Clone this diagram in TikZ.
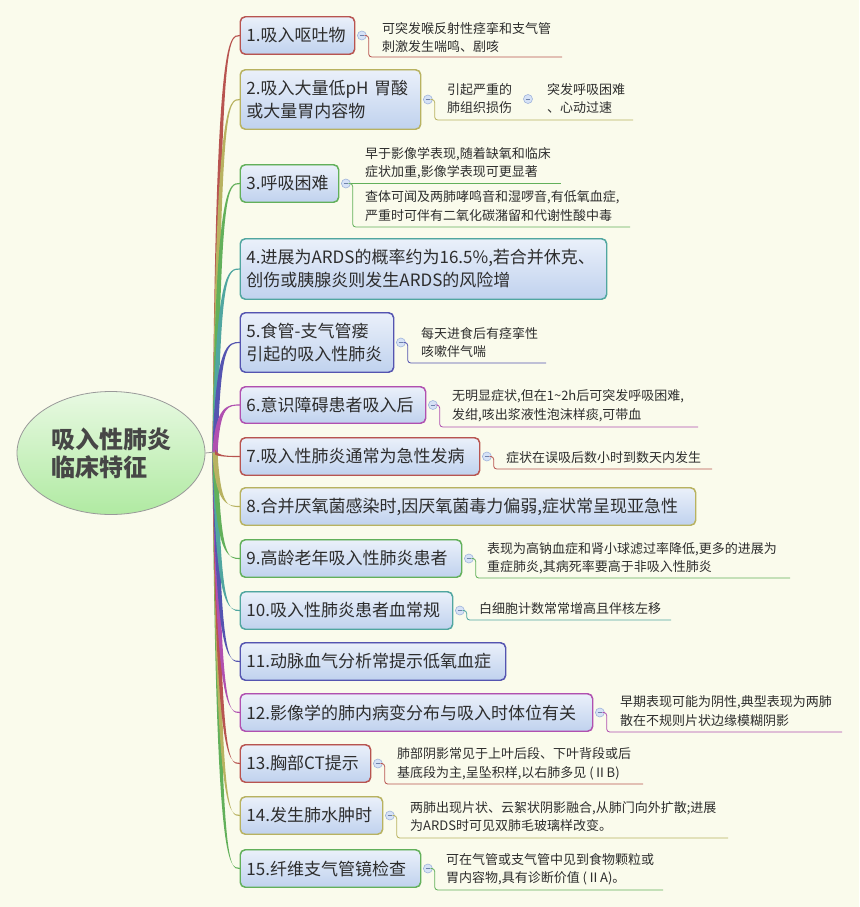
\documentclass[tikz,border=0pt]{standalone}
\usepackage{fontspec}
\setmainfont{Noto Sans CJK SC}
\usetikzlibrary{calc,shapes.geometric}
\definecolor{bg}{RGB}{250,251,236}
\definecolor{cRed}{RGB}{184,84,80}
\definecolor{cOli}{RGB}{184,178,96}
\definecolor{cGrn}{RGB}{98,176,90}
\definecolor{cTea}{RGB}{80,166,160}
\definecolor{cInd}{RGB}{84,84,176}
\definecolor{cMag}{RGB}{176,80,176}
\definecolor{txt}{RGB}{45,45,45}
\definecolor{roottxt}{RGB}{70,70,70}
\definecolor{boxtop}{RGB}{234,240,250}
\definecolor{boxbot}{RGB}{192,210,238}
\definecolor{roottop}{RGB}{232,249,226}
\definecolor{rootbot}{RGB}{176,234,162}
\definecolor{cfill}{RGB}{214,226,246}
\definecolor{cedge}{RGB}{160,180,220}
\definecolor{cminus}{RGB}{110,130,170}
\newcommand\branch[4]{%
  \fill[#1] ($(trunk)+(-#3,-#4)$)
    .. controls ($(trunk|-#2.west)+(3-#3,0)$) and ($(#2.west)+(-12,-0.6)$) .. ($(#2.west)+(0,-0.6)$)
    -- ($(#2.west)+(0,0.6)$)
    .. controls ($(#2.west)+(-12,0.6)$) and ($(trunk|-#2.west)+(3+#3,0)$) .. ($(trunk)+(#3,#4)$) -- cycle;}
\begin{document}
\begin{tikzpicture}[x=1pt,y=-1pt,
  topic/.style={anchor=west, rounded corners=5pt, line width=0.9pt,
    top color=boxtop, bottom color=boxbot, align=left, inner xsep=6pt, inner ysep=2pt,
    font=\fontsize{17}{23}\selectfont, text=txt},
  root/.style={ellipse, draw=gray!80, line width=0.8pt, top color=roottop, bottom color=rootbot,
    minimum width=188pt, minimum height=123pt, inner sep=0pt, align=left,
    font=\fontsize{24}{28}\selectfont\bfseries, text=roottxt},
  collapse/.style={circle, minimum size=9pt, inner sep=0pt, fill=cfill, draw=cedge, line width=0.6pt,
    path picture={\draw[cminus, line width=0.7pt] ([xshift=-2.3pt]path picture bounding box.center) -- ([xshift=2.3pt]path picture bounding box.center);}},
  child/.style={anchor=west, align=left, inner sep=0pt, font=\fontsize{13}{18.5}\selectfont, text=txt},
  uline/.style={line width=0.8pt, rounded corners=3pt}]
\fill[bg] (0,0) rectangle (859,907);
\useasboundingbox (0,0) rectangle (859,907);

% root and topics
\node[root] (root) at (111,453) {吸入性肺炎\\临床特征};
\coordinate (trunk) at (215,452);

\node[topic, draw=cRed, minimum width=114pt, minimum height=37pt, text width=102pt] (b1) at (240,35.5) {1.吸入呕吐物};
\node[topic, draw=cOli, minimum width=180pt, minimum height=59pt, text width=168pt] (b2) at (240,99.5) {2.吸入大量低pH 胃酸\\或大量胃内容物};
\node[topic, draw=cGrn, minimum width=98pt, minimum height=37pt, text width=86pt] (b3) at (240,183.5) {3.呼吸困难};
\node[topic, draw=cTea, minimum width=366pt, minimum height=60pt, text width=354pt] (b4) at (240,269) {4.进展为ARDS的概率约为16.5\%,若合并休克、\\创伤或胰腺炎则发生ARDS的风险增};
\node[topic, draw=cInd, minimum width=153pt, minimum height=59pt, text width=141pt] (b5) at (240,342.5) {5.食管-支气管瘘\\引起的吸入性肺炎};
\node[topic, draw=cMag, minimum width=185pt, minimum height=36pt, text width=173pt] (b6) at (240,405) {6.意识障碍患者吸入后};
\node[topic, draw=cRed, minimum width=239pt, minimum height=37pt, text width=227pt] (b7) at (240,456.5) {7.吸入性肺炎通常为急性发病};
\node[topic, draw=cOli, minimum width=455pt, minimum height=37pt, text width=443pt] (b8) at (240,506.5) {8.合并厌氧菌感染时,因厌氧菌毒力偏弱,症状常呈现亚急性};
\node[topic, draw=cGrn, minimum width=221pt, minimum height=37pt, text width=209pt] (b9) at (240,558.5) {9.高龄老年吸入性肺炎患者};
\node[topic, draw=cTea, minimum width=212pt, minimum height=37pt, text width=200pt] (b10) at (240,610.5) {10.吸入性肺炎患者血常规};
\node[topic, draw=cInd, minimum width=265pt, minimum height=37pt, text width=253pt] (b11) at (240,661.5) {11.动脉血气分析常提示低氧血症};
\node[topic, draw=cMag, minimum width=352pt, minimum height=37pt, text width=340pt] (b12) at (240,712.5) {12.影像学的肺内病变分布与吸入时体位有关};
\node[topic, draw=cRed, minimum width=130pt, minimum height=37pt, text width=118pt] (b13) at (240,763.5) {13.胸部CT提示};
\node[topic, draw=cOli, minimum width=142pt, minimum height=37pt, text width=130pt] (b14) at (240,815.5) {14.发生肺水肿时};
\node[topic, draw=cGrn, minimum width=180pt, minimum height=37pt, text width=168pt] (b15) at (240,868.5) {15.纤维支气管镜检查};

% branches (drawn under the boxes)
\begin{scope}[on background layer/.try]
\end{scope}
\branch{cGrn}{b15}{2.5}{0}
\branch{cOli}{b14}{2.5}{0}
\branch{cRed}{b13}{2.5}{0}
\branch{cMag}{b12}{2.5}{0}
\branch{cInd}{b11}{2.5}{0}
\branch{cTea}{b10}{2.5}{0}
\branch{cGrn}{b9}{2.5}{0}
\branch{cOli}{b8}{2.5}{0}
\branch{cRed}{b1}{2.5}{0}
\branch{cOli}{b2}{2.5}{0}
\branch{cGrn}{b3}{2.5}{0}
\branch{cTea}{b4}{2.5}{0}
\branch{cInd}{b5}{2.5}{0}
\branch{cMag}{b6}{2.5}{0}
\branch{cRed}{b7}{0}{2.5}
\draw[gray!80, line width=0.8pt] (root.east) -- (trunk);

% redraw boxes on top of branch ends
\foreach \b/\c in {b1/cRed,b2/cOli,b3/cGrn,b4/cTea,b5/cInd,b6/cMag,b7/cRed,b8/cOli,b9/cGrn,b10/cTea,b11/cInd,b12/cMag,b13/cRed,b14/cOli,b15/cGrn}
  \draw[\c, line width=0.9pt, rounded corners=5pt] (\b.north west) rectangle (\b.south east);

% underline end points
\coordinate (e1) at (562,57);
\coordinate (e2) at (633,120);
\coordinate (e3a) at (561,183.5);
\coordinate (e3b) at (630,227);
\coordinate (e5) at (546,363);
\coordinate (e6) at (698,427);
\coordinate (e7) at (712,469);
\coordinate (e9) at (790,578);
\coordinate (e10) at (671,620);
\coordinate (e12) at (842,732);
\coordinate (e13) at (643,784);
\coordinate (e14) at (728,838);
\coordinate (e15) at (663,890);

% collapse markers
\node[collapse] (k1) at ($(b1.east)+(7,0)$) {};
\node[collapse] (k2) at ($(b2.east)+(7,0)$) {};
\node[collapse] (k3) at ($(b3.east)+(7,0)$) {};
\node[collapse] (k5) at ($(b5.east)+(7,0)$) {};
\node[collapse] (k6) at ($(b6.east)+(7,0)$) {};
\node[collapse] (k7) at ($(b7.east)+(7,0)$) {};
\node[collapse] (k9) at ($(b9.east)+(7,0)$) {};
\node[collapse] (k10) at ($(b10.east)+(7,0)$) {};
\node[collapse] (k12) at ($(b12.east)+(7,0)$) {};
\node[collapse] (k13) at ($(b13.east)+(7,0)$) {};
\node[collapse] (k14) at ($(b14.east)+(7,0)$) {};
\node[collapse] (k15) at ($(b15.east)+(7,0)$) {};

% underline connectors
\draw[cRed, uline] (k1.east) -- ++(2,0) |- (e1);
\draw[cOli, uline] (k2.east) -- ++(2,0) |- (e2);
\draw[cGrn, uline] (k3.east) -- (e3a);
\draw[cGrn, uline] (k3.east) -- ++(2,0) |- (e3b);
\draw[cInd, uline] (k5.east) -- ++(2,0) |- (e5);
\draw[cMag, uline] (k6.east) -- ++(2,0) |- (e6);
\draw[cRed, uline] (k7.east) -- ++(2,0) |- (e7);
\draw[cGrn, uline] (k9.east) -- ++(2,0) |- (e9);
\draw[cTea, uline] (k10.east) -- ++(2,0) |- (e10);
\draw[cMag, uline] (k12.east) -- ++(2,0) |- (e12);
\draw[cRed, uline] (k13.east) -- ++(2,0) |- (e13);
\draw[cOli, uline] (k14.east) -- ++(2,0) |- (e14);
\draw[cGrn, uline] (k15.east) -- ++(2,0) |- (e15);

% subtopic texts
\node[child] (t1) at (382,37.5) {可突发喉反射性痉挛和支气管\\刺激发生喘鸣、剧咳};
\node[child] (t2) at (447,98.5) {引起严重的\\肺组织损伤};
\node[collapse] (k2b) at (528,99) {};
\node[child] (t2b) at (547,98.5) {突发呼吸困难\\、心动过速};
\node[child] (t3a) at (365,163) {早于影像学表现,随着缺氧和临床\\症状加重,影像学表现可更显著};
\node[child] (t3b) at (365,206) {查体可闻及两肺哮鸣音和湿啰音,有低氧血症,\\严重时可伴有二氧化碳潴留和代谢性酸中毒};
\node[child] (t5) at (421,342.5) {每天进食后有痉挛性\\咳嗽伴气喘};
\node[child] (t6) at (452,405.5) {无明显症状,但在1\textasciitilde 2h后可突发呼吸困难,\\发绀,咳出浆液性泡沫样痰,可带血};
\node[child] (t7) at (506,458) {症状在误吸后数小时到数天内发生};
\node[child] (t9) at (487,558) {表现为高钠血症和肾小球滤过率降低,更多的进展为\\重症肺炎,其病死率要高于非吸入性肺炎};
\node[child] (t10) at (479,609) {白细胞计数常常增高且伴核左移};
\node[child] (t12) at (620,711) {早期表现可能为阴性,典型表现为两肺\\散在不规则片状边缘模糊阴影};
\node[child] (t13) at (397,764) {肺部阴影常见于上叶后段、下叶背段或后\\基底段为主,呈坠积样,以右肺多见 (ⅡB)};
\node[child] (t14) at (410,816.5) {两肺出现片状、云絮状阴影融合,从肺门向外扩散;进展\\为ARDS时可见双肺毛玻璃样改变。};
\node[child] (t15) at (446,869.5) {可在气管或支气管中见到食物颗粒或\\胃内容物,具有诊断价值 (ⅡA)。};
\end{tikzpicture}
\end{document}
